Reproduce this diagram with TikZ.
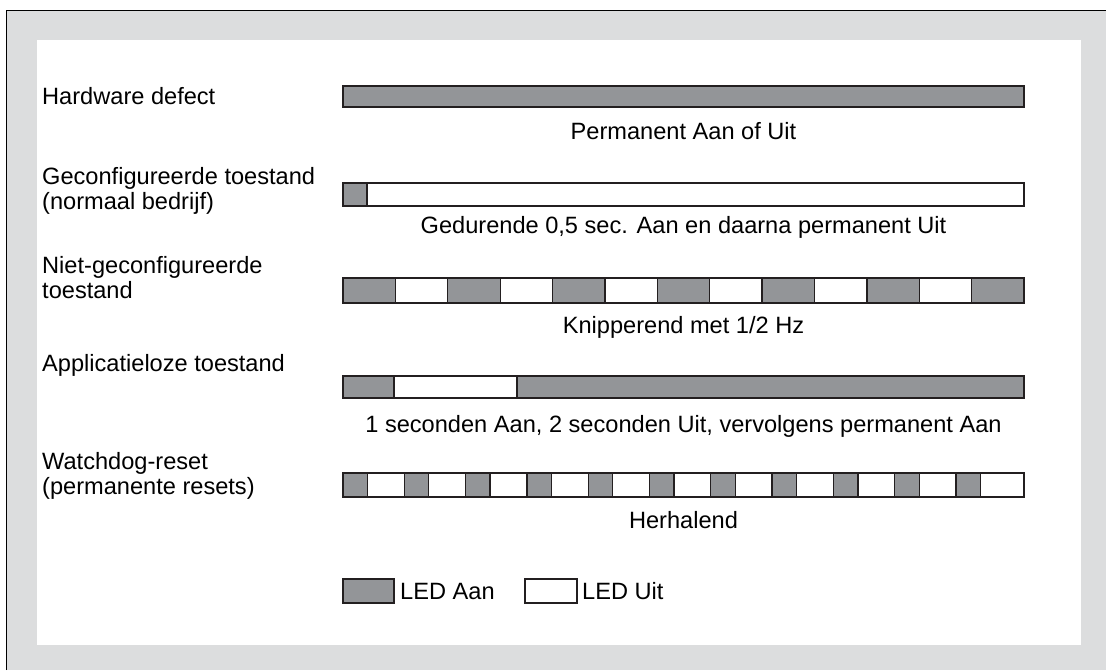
\documentclass[tikz,border=0pt]{standalone}
\usepackage{fontspec}
\setmainfont{Liberation Sans}
\definecolor{ledon}{HTML}{939598}
\definecolor{framebg}{HTML}{DCDDDE}
\definecolor{edge}{HTML}{231F20}
\begin{document}
\begin{tikzpicture}[x=1pt,y=-1pt,
  on/.style={draw=edge,line width=1.3pt,fill=ledon},
  off/.style={draw=edge,line width=1.3pt,fill=white},
  lbl/.style={anchor=base west,align=left,inner sep=0pt,font=\fontsize{23.6}{24.5}\selectfont},
  desc/.style={anchor=base,inner sep=0pt,font=\fontsize{23.6}{24.5}\selectfont}]
\useasboundingbox (0,0) rectangle (1106,670);
\fill[framebg] (6,10) rectangle (1106,670);
\draw[black,line width=1pt] (6,670) -- (6,10) -- (1106,10);
\fill[white] (37,40) rectangle (1081,645);
% row 1
\draw[on] (343,86) rectangle (1024,107);
\node[lbl] (l1) at (42,104) {Hardware defect};
\node[desc] (d1) at (683.5,139) {Permanent Aan of Uit};
% row 2
\draw[off] (343,183) rectangle (1024,206);
\draw[on] (343,183) rectangle (367,206);
\node[lbl] (l2) at (42,209) {Geconfigureerde toestand\\(normaal bedrijf)};
\node[desc] (d2) at (683.5,233) {Gedurende 0,5 sec. Aan en daarna permanent Uit};
% row 3
\foreach \i in {0,...,12}{
  \pgfmathsetmacro{\xa}{343+\i*52.385}
  \pgfmathsetmacro{\xb}{343+(\i+1)*52.385}
  \ifodd\i
    \draw[off] (\xa,278) rectangle (\xb,303);
  \else
    \draw[on] (\xa,278) rectangle (\xb,303);
  \fi
}
\node[lbl] (l3) at (42,298) {Niet-geconfigureerde\\toestand};
\node[desc] (d3) at (683.5,333) {Knipperend met 1/2 Hz};
% row 4
\draw[on] (343,376) rectangle (394,398);
\draw[off] (394,376) rectangle (517,398);
\draw[on] (517,376) rectangle (1024,398);
\node[lbl] (l4) at (42,371) {Applicatieloze toestand};
\node[desc] (d4) at (683.5,432) {1 seconden Aan, 2 seconden Uit, vervolgens permanent Aan};
% row 5
\draw[off] (343,473) rectangle (1024,497);
\foreach \i in {0,...,10}{
  \pgfmathsetmacro{\xa}{343+\i*61.3}
  \draw[on] (\xa,473) rectangle ++(24.5,24);
}
\node[lbl] (l5) at (42,494) {Watchdog-reset\\(permanente resets)};
\node[desc] (d5) at (683.5,528) {Herhalend};
% legend
\draw[on] (343,579) rectangle (394,603);
\node[lbl] (la) at (400,599) {LED Aan};
\draw[off] (525,579) rectangle (577,603);
\node[lbl] (lu) at (582,599) {LED Uit};
\end{tikzpicture}
\end{document}
